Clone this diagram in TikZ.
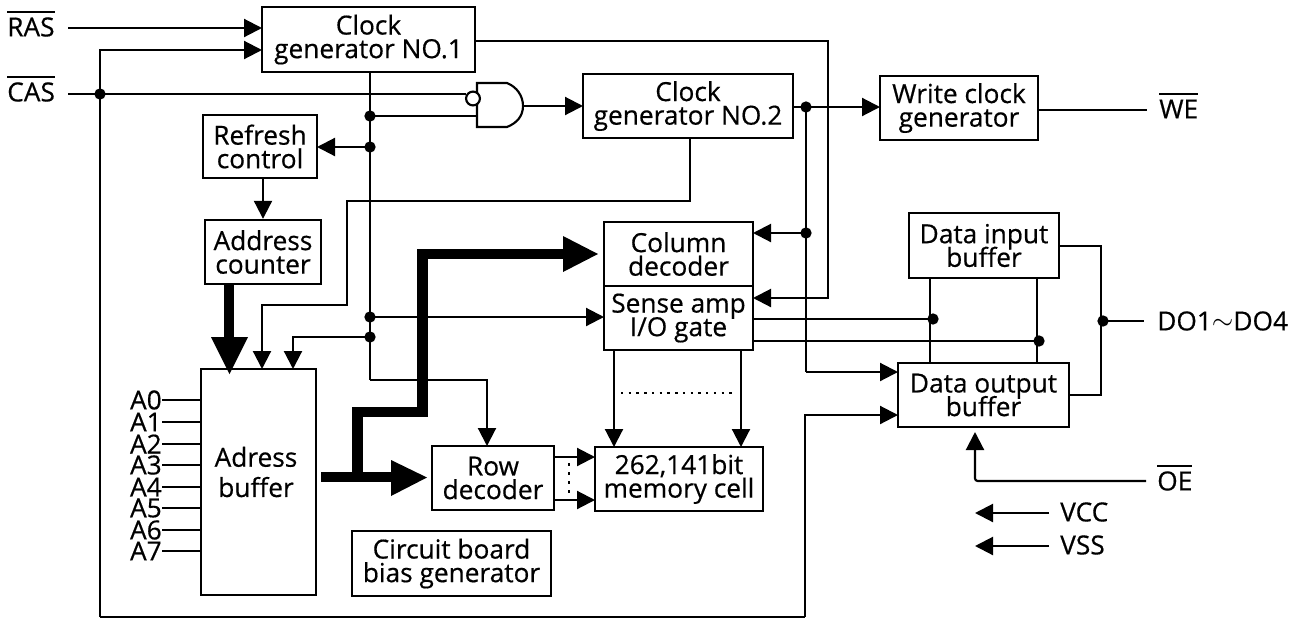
\documentclass[tikz,border=0pt]{standalone}
\usepackage{fontspec}
\setmainfont[RawFeature={embolden=0.5}]{Open Sans}
\usetikzlibrary{arrows.meta,calc}
\newcommand{\txtfont}{\fontsize{19.7}{17.7}\selectfont\lineskiplimit=-20pt\relax}
\tikzset{
  x=0.75pt,y=-0.75pt,
  wire/.style={line width=1.6pt,line join=miter},
  arr/.style={wire,-{Triangle[length=13.5pt,width=13.5pt]}},
  box/.style={draw,line width=1.8pt,fill=white,inner sep=0pt,align=center,font=\txtfont},
  lab/.style={inner sep=0pt,font=\txtfont},
  dotn/.style={circle,fill=black,inner sep=0pt,minimum size=8.5pt},
  thick bus/.style={line width=8.2pt,line join=miter},
  bighead/.style={fill=black,draw=none}
}
\newcommand{\bx}[6]{\node[box,minimum width=#4*0.75pt - #3*0.75pt,minimum height=#6*0.75pt - #5*0.75pt] (#1) at ({(#3+#4)/2},{(#5+#6)/2}) {#2};}
\newcommand{\ovl}[1]{\leavevmode\setbox0=\hbox{#1}\rlap{\smash{\rule[17.5pt]{\wd0}{1.3pt}}}\box0 }
\begin{document}
\begin{tikzpicture}
\useasboundingbox (0,0) rectangle (1300,618);
\coordinate (rasw) at (68,28);
\coordinate (casw) at (68,94);
\coordinate (jcas) at (100,94);
\coordinate (j1) at (370,116);
\coordinate (j2) at (370,147);
\coordinate (j3) at (370,317);
\coordinate (j4) at (370,337);
\coordinate (turn) at (370,380);
\coordinate (j5) at (806,107);
\coordinate (j6) at (806,233);
\coordinate (j7) at (933,319);
\coordinate (j8) at (1039,341);
\coordinate (j9) at (1103,321);

\bx{cg1}{Clock\\generator NO.1}{262}{475}{7}{72}
\bx{cg2}{Clock\\generator NO.2}{583}{793}{74}{138}
\bx{wcg}{Write clock\\generator}{880}{1038}{76}{140}
\bx{ref}{Refresh\\control}{203}{317}{115}{178}
\bx{cnt}{Address\\counter}{205}{321}{220}{284}
\bx{adb}{}{201}{316}{369}{595}
\node[lab,align=center] (adbt) at (256,472) {Adress\\[5pt]buffer};
\bx{row}{Row\\decoder}{432}{554}{446}{510}
\bx{cbb}{Circuit board\\bias generator}{352}{551}{531}{596}
\bx{col}{Column\\decoder}{604}{753}{222}{286}
\bx{sen}{Sense amp\\I/O gate}{604}{753}{286}{350}
\bx{mem}{262,141bit\\memory cell}{595}{763}{447}{511}
\bx{dib}{Data input\\buffer}{909}{1059}{213}{278}
\bx{dob}{Data output\\buffer}{898}{1069}{363}{427}

\node[lab,anchor=west] (ras) at (7,27) {\ovl{RAS}};
\node[lab,anchor=west] (cas) at (7,92) {\ovl{CAS}};
\node[lab,anchor=west] (we) at (1159,109) {\ovl{WE}};
\node[lab,anchor=west] (oe) at (1157,481) {\ovl{OE}};
\node[lab,anchor=west] (dq) at (1157,321) {DO1\raisebox{1pt}{$\sim$}DO4};
\node[lab,anchor=west] (vcc) at (1060,512) {VCC};
\node[lab,anchor=west] (vss) at (1060,545) {VSS};
\foreach \n/\y in {0/400,1/422,2/444,3/465,4/487,5/508,6/530,7/551}{
  \node[lab,anchor=east] (a\n) at (162,\y) {A\n};
  \coordinate (as\n) at (201,\y);
  \draw[wire] (a\n.east) -- (as\n);
}

% NAND gate
\draw[line width=1.6pt,fill=white] (477,83) -- (507,83) .. controls (517,87) and (523,96) .. (523,106) .. controls (523,116) and (517,123) .. (507,127) -- (477,127) -- cycle;
\coordinate (gi1) at (466,94);
\coordinate (gi2) at (477,116);
\coordinate (go) at (523,106);
\draw[line width=1.6pt,fill=white] (473,98.5) circle (5.2pt);

% connectors
\draw[arr] (rasw) -- (262,28);
\draw[wire] (casw) -- (gi1);
\draw[arr] (100,617) -- (jcas) |- (262,50);
\draw[wire] (100,617) -- (805,617);
\draw[arr] (805,617) |- (898,415);
\draw[wire] (370,72) -- (turn);
\draw[arr] (turn) -| (487,446);
\draw[wire] (j1) -- (gi2);
\draw[arr] (j2) -- (317,147);
\draw[arr] (ref.south -| cnt.north) -- (cnt.north);
\draw[arr] (go) -- (583,106);
\draw[arr] (690,138) -- (690,201) -- (347,201) -- (347,305) -- (262,305) -- (262,369);
\draw[arr] (j4) -| (293,369);
\draw[arr] (j3) -- (604,317);
\draw[arr] (793,107) -- (880,107);
\draw[wire] (j5) -- (806,372);
\draw[arr] (806,372) -- (898,372);
\draw[arr] (j6) -- (753,233);
\draw[arr] (475,41) -- (828,41) -- (828,298) -- (753,298);
\draw[wire] (753,319) -- (j7);
\draw[wire] (753,341) -- (j8);
\draw[wire] (930,278) -- (930,363);
\draw[wire] (1037,278) -- (1037,363);
\draw[wire] (1059,246) -- (1101,246) -- (1101,395) -- (1069,395);
\draw[wire] (j9) -- (1144,321);
\draw[wire] (1038,110) -- (1147,110);
\draw[arr,rounded corners=2pt] (1146,481) -- (975,481) -- (975,432);
\draw[arr] (1049,513) -- (975,513);
\draw[arr] (1049,546) -- (975,546);
\draw[arr] (614,350) -- (614,447);
\draw[arr] (741,350) -- (741,447);
\draw[arr] (554,457) -- (595,457);
\draw[arr] (554,500) -- (595,500);
\draw[line width=1.5pt,dash pattern=on 1.8pt off 4pt] (621,393) -- (733,393);
\draw[line width=2pt,dash pattern=on 2.2pt off 4.6pt] (569,463) -- (569,493);

% thick buses
\draw[thick bus] (229,284) -- (229,340);
\fill[bighead] (211,337) -- (248,337) -- (229.5,374) -- cycle;
\draw[thick bus] (321,477) -- (393,477);
\fill[bighead] (391,460) -- (427,477.5) -- (391,496) -- cycle;
\draw[thick bus] (357.5,477) -- (357.5,412) -- (422.5,412) -- (422.5,254) -- (565,254);
\fill[bighead] (563,236) -- (598,254) -- (563,272) -- cycle;

% junctions
\foreach \c in {jcas,j1,j2,j3,j4,j5,j6,j7,j8,j9}{\node[dotn] at (\c) {};}
\end{tikzpicture}
\end{document}
